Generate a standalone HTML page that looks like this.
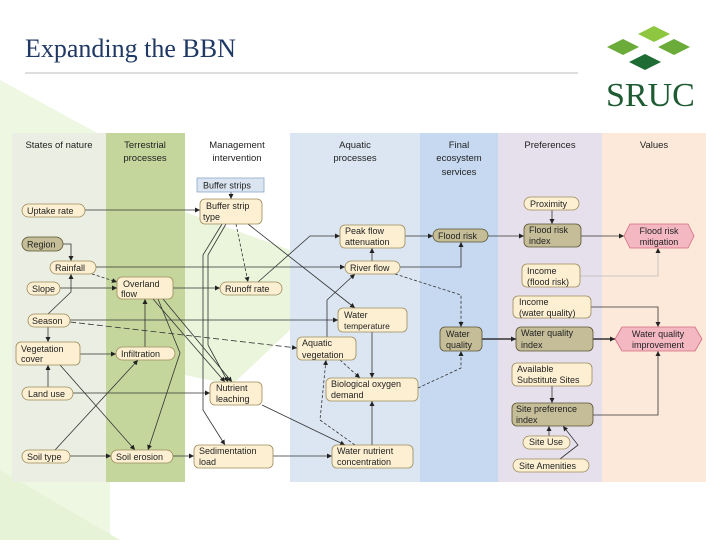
<!DOCTYPE html>
<html><head><meta charset="utf-8"><style>
body{margin:0;width:720px;height:540px;overflow:hidden;background:#fff;font-family:"Liberation Sans",sans-serif}
</style></head><body>
<svg width="720" height="540" viewBox="0 0 720 540" xmlns="http://www.w3.org/2000/svg" font-family="Liberation Sans, DejaVu Sans, sans-serif">
<defs>
<marker id="a" markerWidth="6" markerHeight="6" refX="5" refY="3" orient="auto" markerUnits="userSpaceOnUse"><path d="M0,0.5 L5,3 L0,5.5z" fill="#222"/></marker>
</defs>
<!-- background faint green shapes -->
<polygon points="0,80 110,140 110,540 0,540" fill="#eef7e2"/>
<polygon points="0,470 120,540 0,540" fill="#e6f3d6"/>
<!-- title -->
<text x="25" y="57" font-family="Liberation Serif, serif" font-size="26" fill="#1f3864">Expanding the BBN</text>
<line x1="25" y1="73" x2="578" y2="73" stroke="#bbb" stroke-width="1"/>
<!-- logo -->
<polygon points="654,26 670,34 654,42 638,34" fill="#8dc63f"/>
<polygon points="623,39 639,47 623,55 607,47" fill="#6aab3a"/>
<polygon points="674,39 690,47 674,55 658,47" fill="#6aab3a"/>
<polygon points="645,54 661,62 645,70 629,62" fill="#1e6b34"/>
<text x="606" y="106" font-family="Liberation Serif, serif" font-size="34" fill="#1e5a32">SRUC</text>
<!-- columns -->
<rect x="12" y="133" width="94" height="349" fill="#ebeee2"/>
<rect x="106" y="133" width="79" height="349" fill="#c5d69d"/>
<rect x="185" y="133" width="105" height="349" fill="#ffffff"/>
<polygon points="185,212 290,250 290,330 232,385 185,375" fill="#eaf5dc"/>
<rect x="290" y="133" width="130" height="349" fill="#dce6f2"/>
<rect x="420" y="133" width="78" height="349" fill="#c6d9f0"/>
<rect x="498" y="133" width="104" height="349" fill="#e5e0ec"/>
<rect x="602" y="133" width="104" height="349" fill="#fde9d9"/>
<g font-size="9.5" fill="#222" text-anchor="middle">
<text x="59" y="148">States of nature</text>
<text x="145" y="148">Terrestrial</text><text x="145" y="161">processes</text>
<text x="237" y="148">Management</text><text x="237" y="161">intervention</text>
<text x="355" y="148">Aquatic</text><text x="355" y="161">processes</text>
<text x="459" y="148">Final</text><text x="459" y="161">ecosystem</text><text x="459" y="175">services</text>
<text x="550" y="148">Preferences</text>
<text x="654" y="148">Values</text>
</g>
<!-- edges -->
<g stroke="#333" stroke-width="0.8" fill="none" marker-end="url(#a)">
<path d="M231,192 V199"/>
<path d="M85,210 H200"/>
<path d="M63,244 H71 V261"/>
<path d="M92,274 L117,282" stroke-dasharray="3,2"/>
<path d="M96,267 H345"/>
<path d="M60,288 H117"/>
<path d="M173,288 H220"/>
<path d="M236,224 L248,282" stroke-dasharray="3,2"/>
<path d="M248,224 L355,308"/>
<path d="M258,282 L310,236 H340"/>
<path d="M222,224 L203,255 V410 L225,445"/>
<path d="M226,224 L208,255 V345 L228,382"/>
<path d="M70,320 H338"/>
<path d="M70,322 L297,348" stroke-dasharray="6,3"/>
<path d="M48,327 V342"/>
<path d="M48,314 L71,292 V274"/>
<path d="M80,354 H116"/>
<path d="M145,347 V299"/>
<path d="M153,299 L225,382"/>
<path d="M158,299 L180,353 L148,450"/>
<path d="M163,299 L232,382"/>
<path d="M60,365 L135,450"/>
<path d="M48,387 V365"/>
<path d="M73,393 H210"/>
<path d="M55,450 L138,360"/>
<path d="M70,456 H111"/>
<path d="M173,456 H194"/>
<path d="M273,456 H332"/>
<path d="M262,405 L345,445"/>
<path d="M372,445 V401"/>
<path d="M355,445 L320,420 L326,360" stroke-dasharray="3,2"/>
<path d="M340,360 L360,378" stroke-dasharray="3,2"/>
<path d="M372,332 V378"/>
<path d="M327,337 V300 L355,274"/>
<path d="M372,261 V248"/>
<path d="M400,267 H461 V242"/>
<path d="M395,274 L461,295 V327" stroke-dasharray="3,2"/>
<path d="M418,388 L461,368 V351" stroke-dasharray="3,2"/>
<path d="M405,236 H433"/>
<path d="M488,236 H524"/>
<path d="M552,210 V224"/>
<path d="M581,236 H624"/>
<path d="M580,276 H658 V248" stroke="#bbb"/>
<path d="M482,339 H516" stroke-width="1.6"/>
<path d="M593,339 H615" stroke-width="1.6"/>
<path d="M591,307 H658 V327"/>
<path d="M552,386 V403"/>
<path d="M593,415 H658 V351"/>
<path d="M549,436 V426"/>
<path d="M560,459 L578,445 L563,426"/>
</g>
<!-- nodes -->
<g font-size="9" fill="#222" stroke-width="0.8">
<rect x="197" y="178" width="67" height="14" fill="#dbe5f1" stroke="#8ea9c8"/>
<text x="203" y="188.5">Buffer strips</text>
<g stroke="#9c8a5a" fill="#fdf0d2">
<rect x="200" y="199" width="62" height="25" rx="5"/>
<rect x="22" y="204" width="63" height="13" rx="6.5"/>
<rect x="50" y="261" width="46" height="13" rx="6.5"/>
<rect x="27" y="282" width="33" height="13" rx="6.5"/>
<rect x="117" y="277" width="56" height="22" rx="5"/>
<rect x="220" y="282" width="62" height="13" rx="6.5"/>
<rect x="28" y="314" width="42" height="13" rx="6.5"/>
<rect x="16" y="342" width="64" height="23" rx="5"/>
<rect x="116" y="347" width="59" height="13" rx="6.5"/>
<rect x="22" y="387" width="51" height="13" rx="6.5"/>
<rect x="210" y="382" width="52" height="23" rx="5"/>
<rect x="22" y="450" width="48" height="13" rx="6.5"/>
<rect x="111" y="450" width="62" height="13" rx="6.5"/>
<rect x="194" y="445" width="79" height="23" rx="5"/>
<rect x="340" y="225" width="65" height="23" rx="5"/>
<rect x="345" y="261" width="55" height="13" rx="6.5"/>
<rect x="338" y="308" width="69" height="24" rx="5"/>
<rect x="297" y="337" width="59" height="23" rx="5"/>
<rect x="326" y="378" width="92" height="23" rx="5"/>
<rect x="332" y="445" width="81" height="23" rx="5"/>
<rect x="524" y="197" width="55" height="13" rx="6.5"/>
<rect x="522" y="264" width="58" height="23" rx="5"/>
<rect x="513" y="296" width="78" height="22" rx="5"/>
<rect x="512" y="363" width="80" height="23" rx="5"/>
<rect x="523" y="436" width="47" height="13" rx="6.5"/>
<rect x="513" y="459" width="76" height="13" rx="6.5"/>
</g>
<g stroke="#5a5330" fill="#c4bd97">
<rect x="22" y="237" width="41" height="14" rx="7"/>
<rect x="433" y="229" width="55" height="13" rx="6.5"/>
<rect x="440" y="327" width="42" height="24" rx="5"/>
<rect x="524" y="224" width="57" height="23" rx="5"/>
<rect x="516" y="327" width="77" height="24" rx="5"/>
<rect x="512" y="403" width="81" height="23" rx="5"/>
</g>
<g stroke="#d36b7f" fill="#f4b8c3">
<polygon points="630,224 688,224 694,236 688,248 630,248 624,236"/>
<polygon points="622,327 695,327 702,339 695,351 622,351 615,339"/>
</g>
<text x="206" y="209">Buffer strip</text><text x="203" y="220">type</text>
<text x="27" y="214">Uptake rate</text>
<text x="27" y="247.5">Region</text>
<text x="55" y="271">Rainfall</text>
<text x="32" y="292">Slope</text>
<text x="123" y="287">Overland</text><text x="121" y="297">flow</text>
<text x="225" y="292">Runoff rate</text>
<text x="32" y="324">Season</text>
<text x="21" y="352">Vegetation</text><text x="21" y="362">cover</text>
<text x="121" y="357">Infiltration</text>
<text x="28" y="397">Land use</text>
<text x="216" y="391">Nutrient</text><text x="216" y="402">leaching</text>
<text x="27" y="460">Soil type</text>
<text x="116" y="460">Soil erosion</text>
<text x="199" y="454">Sedimentation</text><text x="199" y="465">load</text>
<text x="345" y="234">Peak flow</text><text x="345" y="245">attenuation</text>
<text x="350" y="271">River flow</text>
<text x="344" y="318">Water</text><text x="344" y="329" font-size="8.5">temperature</text>
<text x="302" y="346">Aquatic</text><text x="302" y="358">vegetation</text>
<text x="331" y="387">Biological oxygen</text><text x="331" y="398">demand</text>
<text x="337" y="454">Water nutrient</text><text x="337" y="465">concentration</text>
<text x="438" y="239">Flood risk</text>
<text x="446" y="337">Water</text><text x="446" y="348">quality</text>
<text x="530" y="207">Proximity</text>
<text x="529" y="233">Flood risk</text><text x="529" y="244">index</text>
<text x="527" y="274">Income</text><text x="527" y="285">(flood risk)</text>
<text x="519" y="305">Income</text><text x="519" y="316">(water quality)</text>
<text x="521" y="336">Water quality</text><text x="521" y="348">index</text>
<text x="517" y="372">Available</text><text x="517" y="383">Substitute Sites</text>
<text x="516" y="412">Site preference</text><text x="516" y="423">index</text>
<text x="529" y="445">Site Use</text>
<text x="519" y="469">Site Amenities</text>
<text x="659" y="234" text-anchor="middle">Flood risk</text><text x="659" y="245" text-anchor="middle">mitigation</text>
<text x="658" y="337" text-anchor="middle">Water quality</text><text x="658" y="348" text-anchor="middle">improvement</text>
</g>
</svg>
</body></html>
